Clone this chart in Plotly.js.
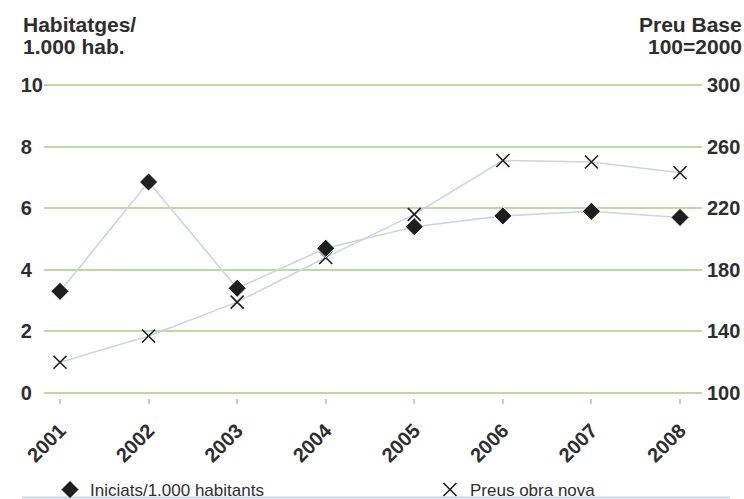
<!DOCTYPE html>
<html>
<head>
<meta charset="utf-8">
<script src="https://cdn.plot.ly/plotly-3.0.1.min.js"></script>
<style>
  html, body { margin: 0; padding: 0; background: #ffffff; }
  #chart { width: 744px; height: 499px; }
</style>
</head>
<body>
<div id="chart"></div>
<script>
// Years on the horizontal axis
const years = ['2001', '2002', '2003', '2004', '2005', '2006', '2007', '2008'];

// Housing starts per 1,000 inhabitants (left axis)
const iniciats = [3.3, 6.85, 3.4, 4.7, 5.4, 5.75, 5.9, 5.7];

// New-build price index, base 100 = 2000 (right axis)
const preus = [120, 137, 159, 188, 216, 251, 250, 243];

// Axis tick labels
const leftTicks = [0, 2, 4, 6, 8, 10];
const leftTickText = ['0\u2007', '2\u2007', '4\u2007', '6\u2007', '8\u2007', '10'];
const rightTicks = [100, 140, 180, 220, 260, 300];

const seriesNames = ['Iniciats/1.000 habitants', 'Preus obra nova'];

// Page geometry
const W = 744, H = 499;
const M = { l: 44, r: 42, t: 80, b: 101 };
const plotW = W - M.l - M.r, plotH = H - M.t - M.b;
const paperX = px => (px - M.l) / plotW;
const paperY = py => (H - M.b - py) / plotH;

const gridGreen = '#bcd9a2';
const lineBlue = '#c8d6e1';
const textDark = '#2e2e2e';
const markColor = '#1e1e1e';
const font = 'Arial, "Liberation Sans", sans-serif';

// Value ranges padded by 5px so the outermost gridlines are drawn
const pad = 5 / (plotH - 10);
const leftRange = [0 - 10 * pad, 10 + 10 * pad];
const rightRange = [100 - 200 * pad, 300 + 200 * pad];
const xRange = [-0.1806, 7.2484];

const traces = [
  // connecting lines (behind the markers)
  {
    x: years, y: preus, yaxis: 'y', xaxis: 'x', showlegend: false, hoverinfo: 'skip',
    type: 'scatter', mode: 'lines', line: { color: lineBlue, width: 1.6 }
  },
  {
    x: years, y: preus, name: seriesNames[1], yaxis: 'y', xaxis: 'x', legend: 'legend2',
    type: 'scatter', mode: 'markers',
    marker: { symbol: 'x-thin-open', size: 13, color: markColor, line: { width: 1.6, color: markColor } }
  },
  {
    x: years, y: iniciats, yaxis: 'y2', xaxis: 'x', showlegend: false, hoverinfo: 'skip',
    type: 'scatter', mode: 'lines', line: { color: lineBlue, width: 1.6 }
  },
  {
    x: years, y: iniciats, name: seriesNames[0], yaxis: 'y2', xaxis: 'x', legend: 'legend',
    type: 'scatter', mode: 'markers',
    marker: { symbol: 'diamond', size: 14, color: markColor, line: { width: 1, color: '#ffffff' } }
  }
];

const legendCommon = {
  orientation: 'h', yanchor: 'middle', y: paperY(490), xanchor: 'left',
  font: { family: font, size: 17, color: textDark },
  bgcolor: 'rgba(0,0,0,0)', itemwidth: 30
};

const titleFont = { family: font, size: 21, color: textDark };
const titleLine = (text, px, py, anchor) => ({
  xref: 'paper', yref: 'paper', x: paperX(px), y: paperY(py),
  xanchor: anchor, yanchor: 'top', text: '<b>' + text + '</b>',
  showarrow: false, font: titleFont
});

const layout = {
  width: W, height: H,
  margin: { l: M.l, r: M.r, t: M.t, b: M.b, autoexpand: false },
  paper_bgcolor: '#ffffff', plot_bgcolor: '#ffffff',
  showlegend: true,
  font: { family: font, color: textDark },
  xaxis: {
    type: 'category', range: xRange, automargin: false,
    showgrid: false, zeroline: false, showline: false,
    ticks: 'outside', ticklen: 5, tickwidth: 2, tickcolor: gridGreen,
    tickangle: -45, ticklabelstandoff: 7,
    tickfont: { family: font, size: 20, color: textDark, weight: 'bold' }
  },
  xaxis2: {
    overlaying: 'x', anchor: 'y', type: 'linear', range: xRange, automargin: false,
    tickmode: 'array', tickvals: [0, 1, 2, 3, 4, 5, 6, 7],
    showticklabels: false, showgrid: false, zeroline: false, showline: false,
    ticks: 'inside', ticklen: 23, tickwidth: 2, tickcolor: gridGreen
  },
  yaxis: {
    side: 'right', range: rightRange, automargin: false,
    tickmode: 'array', tickvals: rightTicks,
    showgrid: true, gridcolor: gridGreen, gridwidth: 2,
    zeroline: false, showline: false, ticks: '',
    ticklabelstandoff: 4,
    tickfont: { family: font, size: 20, color: textDark, weight: 'bold' }
  },
  yaxis2: {
    side: 'left', overlaying: 'y', range: leftRange, automargin: false,
    tickmode: 'array', tickvals: leftTicks, ticktext: leftTickText,
    showgrid: false, zeroline: false, showline: false, ticks: '',
    ticklabelstandoff: 0,
    tickfont: { family: font, size: 20, color: textDark, weight: 'bold' }
  },
  legend: Object.assign({}, legendCommon, { x: paperX(50) }),
  legend2: Object.assign({}, legendCommon, { x: paperX(430) }),
  shapes: [
    { type: 'line', xref: 'paper', yref: 'paper', x0: paperX(22), x1: paperX(730),
      y0: paperY(497.5), y1: paperY(497.5), line: { color: lineBlue, width: 2 } }
  ],
  annotations: [
    titleLine('Habitatges/', 21, 11, 'left'),
    titleLine('1.000 hab.', 21, 33, 'left'),
    titleLine('Preu Base', 743.5, 11, 'right'),
    titleLine('100=2000', 743.5, 33, 'right')
  ]
};

Plotly.newPlot('chart', traces, layout, { displayModeBar: false, staticPlot: true });
</script>
</body>
</html>
